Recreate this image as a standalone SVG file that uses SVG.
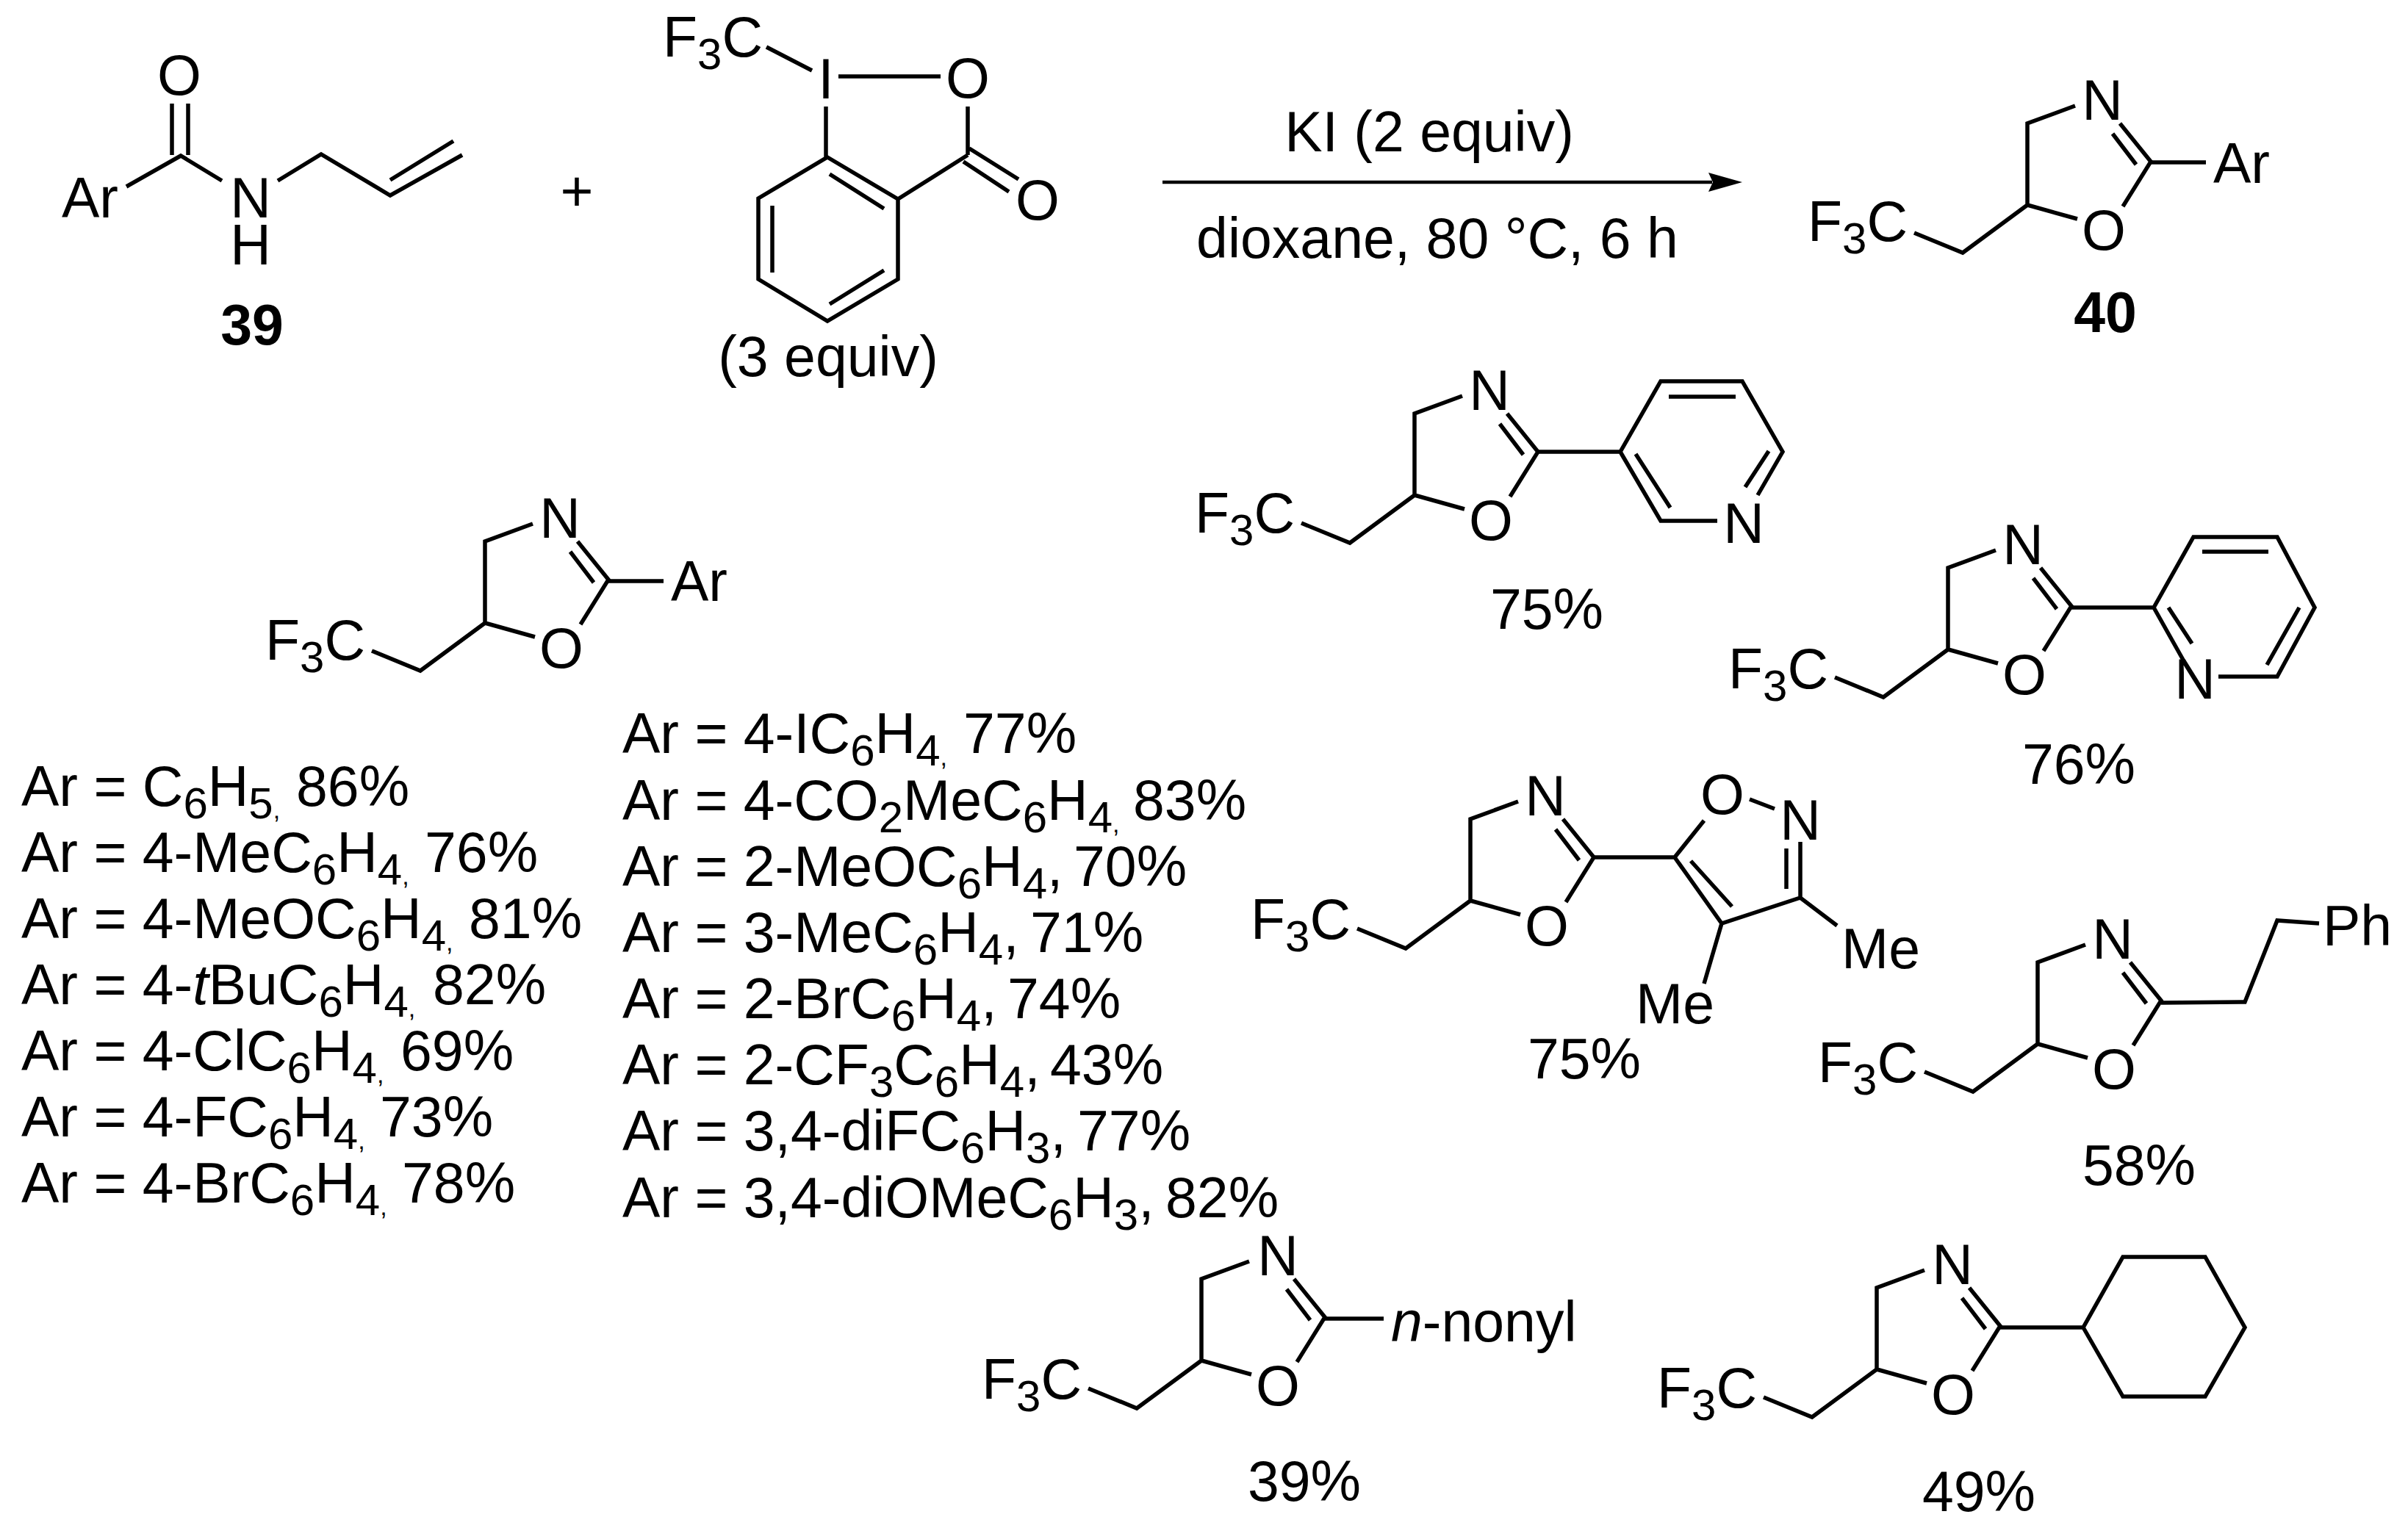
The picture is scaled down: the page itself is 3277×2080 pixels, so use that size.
<svg xmlns="http://www.w3.org/2000/svg" xmlns:xlink="http://www.w3.org/1999/xlink" width="3277" height="2080" viewBox="0 0 3277 2080">
<style>
text{font-family:"Liberation Sans",Arial,sans-serif;font-size:77px;fill:#000}
.m{text-anchor:middle}
.b{font-weight:700}
.s{font-size:60px}
.c{font-size:34px}
.i{font-style:italic}
.bond{fill:none;stroke:#000;stroke-width:5.5}
</style>
<defs>
<path id="ox" class="bond" d="M-154,38L-88,65L0,0L0,-111L65,-135M0,0L68,19M130,2L168,-59L126,-111M116,-97L148,-55"/>
<marker id="ah" markerUnits="userSpaceOnUse" markerWidth="50" markerHeight="30" refX="5" refY="15" orient="auto"><path d="M0,2L46,15L0,28L6,15Z" fill="#000"/></marker>
</defs>
<rect width="3277" height="2080" fill="#fff"/>

<g id="connectors"><path d="M1582,248H2330" fill="none" stroke="#000" stroke-width="4.5" marker-end="url(#ah)"/></g>

<g id="amide-39">
<path class="bond" d="M234,141V211M256,141V211M172,254L246,212L302,246M378,246L437,210L531,266L629,211M531,245L617,192"/>
<text x="244" y="129" class="m">O</text>
<text x="84" y="296">Ar</text>
<text x="341" y="296" class="m">N</text>
<text x="341" y="360" class="m">H</text>
<text x="343" y="469" class="m b">39</text>
</g>
<g id="plus"><text x="785" y="287" class="m">+</text></g>
<g id="togni">
<path class="bond" d="M1043,64L1105,96M1141,104H1280M1124,145V214M1317,145V211M1126,214L1222,271V380L1126,437L1032,380V270ZM1129,237L1203,284M1051,280V371M1203,368L1129,414M1222,271L1317,211M1319,202L1386,244M1311,220L1373,261"/>
<text x="902" y="77">F<tspan class="s" dy="17">3</tspan><tspan dy="-17">C</tspan></text>
<text x="1124" y="134" class="m">I</text>
<text x="1317" y="133" class="m">O</text>
<text x="1412" y="299" class="m">O</text>
<text x="1127" y="512" class="m">(3 equiv)</text>
</g>
<g id="conditions">
<text x="1945" y="206" class="m">KI (2 equiv)</text>
<text x="1956" y="351" class="m">dioxane, 80 °C, 6 h</text>
</g>
<g id="product-40" transform="translate(2759,279)">
<use href="#ox"/><path class="bond" d="M168,-58H243"/>
<text x="102" y="-116" class="m">N</text><text x="104" y="61" class="m">O</text>
<text x="253" y="-30">Ar</text>
<text x="-299" y="49">F<tspan class="s" dy="17">3</tspan><tspan dy="-17">C</tspan></text>
<text x="106" y="173" class="m b">40</text>
</g>
<g id="pyridin-3-yl" transform="translate(1925,674)">
<use href="#ox"/><path class="bond" d="M168,-59H280L335,-155H446L501,-59L467,0M482,-60L450,-11M412,35L335,35L280,-59M301,-56L348,17M346,-134H437"/>
<text x="102" y="-116" class="m">N</text><text x="104" y="61" class="m">O</text>
<text x="448" y="65" class="m">N</text>
<text x="-299" y="51">F<tspan class="s" dy="17">3</tspan><tspan dy="-17">C</tspan></text>
<text x="180" y="182" class="m">75%</text>
</g>
<g id="pyridin-2-yl" transform="translate(2651,884)">
<use href="#ox"/><path class="bond" d="M168,-57H280L334,-153H448L499,-57L448,37H368M280,-57L321,16M300,-57L332,-8M346,-133H436M478,-57L434,21"/>
<text x="102" y="-116" class="m">N</text><text x="104" y="61" class="m">O</text>
<text x="336" y="67" class="m">N</text>
<text x="-299" y="53">F<tspan class="s" dy="17">3</tspan><tspan dy="-17">C</tspan></text>
<text x="178" y="183" class="m">76%</text>
</g>
<g id="template" transform="translate(660,848)">
<use href="#ox"/><path class="bond" d="M168,-57H243"/>
<text x="102" y="-116" class="m">N</text><text x="104" y="61" class="m">O</text>
<text x="253" y="-30">Ar</text>
<text x="-299" y="50">F<tspan class="s" dy="17">3</tspan><tspan dy="-17">C</tspan></text>
</g>
<g id="list-left">
<text x="29" y="1097">Ar = C<tspan class="s" dy="17">6</tspan><tspan dy="-17">H</tspan><tspan class="s" dy="17">5</tspan><tspan class="c">,</tspan><tspan x="403" dy="-17">86%</tspan></text>
<text x="29" y="1187">Ar = 4-MeC<tspan class="s" dy="17">6</tspan><tspan dy="-17">H</tspan><tspan class="s" dy="17">4</tspan><tspan class="c">,</tspan><tspan x="578" dy="-17">76%</tspan></text>
<text x="29" y="1277">Ar = 4-MeOC<tspan class="s" dy="17">6</tspan><tspan dy="-17">H</tspan><tspan class="s" dy="17">4</tspan><tspan class="c">,</tspan><tspan x="638" dy="-17">81%</tspan></text>
<text x="29" y="1367">Ar = 4-<tspan class="i">t</tspan>BuC<tspan class="s" dy="17">6</tspan><tspan dy="-17">H</tspan><tspan class="s" dy="17">4</tspan><tspan class="c">,</tspan><tspan x="589" dy="-17">82%</tspan></text>
<text x="29" y="1457">Ar = 4-ClC<tspan class="s" dy="17">6</tspan><tspan dy="-17">H</tspan><tspan class="s" dy="17">4</tspan><tspan class="c">,</tspan><tspan x="545" dy="-17">69%</tspan></text>
<text x="29" y="1547">Ar = 4-FC<tspan class="s" dy="17">6</tspan><tspan dy="-17">H</tspan><tspan class="s" dy="17">4</tspan><tspan class="c">,</tspan><tspan x="517" dy="-17">73%</tspan></text>
<text x="29" y="1637">Ar = 4-BrC<tspan class="s" dy="17">6</tspan><tspan dy="-17">H</tspan><tspan class="s" dy="17">4</tspan><tspan class="c">,</tspan><tspan x="547" dy="-17">78%</tspan></text>
</g>
<g id="list-right">
<text x="847" y="1025">Ar = 4-IC<tspan class="s" dy="17">6</tspan><tspan dy="-17">H</tspan><tspan class="s" dy="17">4</tspan><tspan class="c">,</tspan><tspan x="1311" dy="-17">77%</tspan></text>
<text x="847" y="1116">Ar = 4-CO<tspan class="s" dy="17">2</tspan><tspan dy="-17">MeC</tspan><tspan class="s" dy="17">6</tspan><tspan dy="-17">H</tspan><tspan class="s" dy="17">4</tspan><tspan class="c">,</tspan><tspan x="1542" dy="-17">83%</tspan></text>
<text x="847" y="1206">Ar = 2-MeOC<tspan class="s" dy="17">6</tspan><tspan dy="-17">H</tspan><tspan class="s" dy="17">4</tspan><tspan dy="-17">,</tspan><tspan x="1461">70%</tspan></text>
<text x="847" y="1296">Ar = 3-MeC<tspan class="s" dy="17">6</tspan><tspan dy="-17">H</tspan><tspan class="s" dy="17">4</tspan><tspan dy="-17">,</tspan><tspan x="1402">71%</tspan></text>
<text x="847" y="1386">Ar = 2-BrC<tspan class="s" dy="17">6</tspan><tspan dy="-17">H</tspan><tspan class="s" dy="17">4</tspan><tspan dy="-17">,</tspan><tspan x="1371">74%</tspan></text>
<text x="847" y="1476">Ar = 2-CF<tspan class="s" dy="17">3</tspan><tspan dy="-17">C</tspan><tspan class="s" dy="17">6</tspan><tspan dy="-17">H</tspan><tspan class="s" dy="17">4</tspan><tspan dy="-17">,</tspan><tspan x="1429">43%</tspan></text>
<text x="847" y="1566">Ar = 3,4-diFC<tspan class="s" dy="17">6</tspan><tspan dy="-17">H</tspan><tspan class="s" dy="17">3</tspan><tspan dy="-17">,</tspan><tspan x="1466">77%</tspan></text>
<text x="847" y="1657">Ar = 3,4-diOMeC<tspan class="s" dy="17">6</tspan><tspan dy="-17">H</tspan><tspan class="s" dy="17">3</tspan><tspan dy="-17">,</tspan><tspan x="1586">82%</tspan></text>
</g>
<g id="isoxazolyl" transform="translate(2001,1226)">
<use href="#ox"/><path class="bond" d="M168,-59H278L318,-109M380,-138L414,-125M449,-4V-80M430,-16V-71M278,-59L342,31L449,-4L499,34M300,-54L356,8M342,31L318,113"/>
<text x="102" y="-116" class="m">N</text><text x="104" y="61" class="m">O</text>
<text x="343" y="-118" class="m">O</text>
<text x="449" y="-83" class="m">N</text>
<text x="505" y="92">Me</text>
<text x="225" y="167">Me</text>
<text x="-299" y="52">F<tspan class="s" dy="17">3</tspan><tspan dy="-17">C</tspan></text>
<text x="155" y="242" class="m">75%</text>
</g>
<g id="phenethyl" transform="translate(2773,1421)">
<use href="#ox"/><path class="bond" d="M168,-56L282,-57L326,-168L383,-164"/>
<text x="102" y="-116" class="m">N</text><text x="104" y="61" class="m">O</text>
<text x="388" y="-134">Ph</text>
<text x="-299" y="52">F<tspan class="s" dy="17">3</tspan><tspan dy="-17">C</tspan></text>
<text x="138" y="192" class="m">58%</text>
</g>
<g id="nonyl" transform="translate(1635,1852)">
<use href="#ox"/><path class="bond" d="M168,-57H248"/>
<text x="104" y="-116" class="m">N</text><text x="104" y="61" class="m">O</text>
<text x="258" y="-26"><tspan class="i">n</tspan>-nonyl</text>
<text x="-299" y="52">F<tspan class="s" dy="17">3</tspan><tspan dy="-17">C</tspan></text>
<text x="140" y="191" class="m">39%</text>
</g>
<g id="cyclohexyl" transform="translate(2554,1864)">
<use href="#ox"/><path class="bond" d="M168,-57H281L335,-153H447L501,-57L447,37H335L281,-57"/>
<text x="103" y="-116" class="m">N</text><text x="104" y="61" class="m">O</text>
<text x="-299" y="52">F<tspan class="s" dy="17">3</tspan><tspan dy="-17">C</tspan></text>
<text x="139" y="193" class="m">49%</text>
</g>
</svg>
